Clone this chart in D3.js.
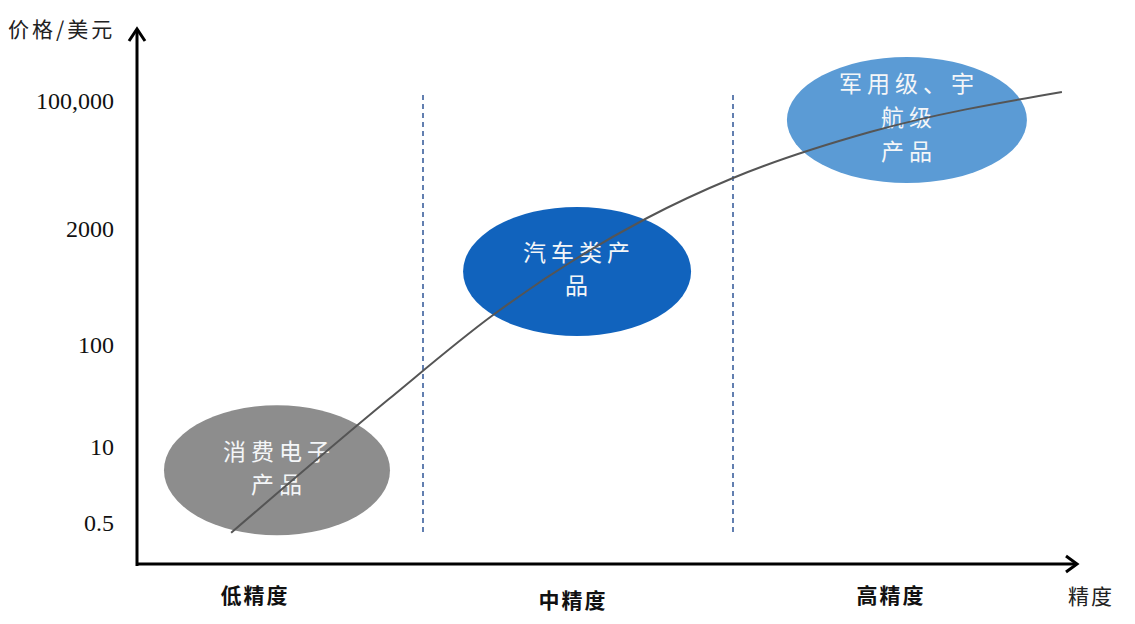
<!DOCTYPE html>
<html>
<head>
<meta charset="utf-8">
<script src="https://cdn.jsdelivr.net/npm/d3@7"></script>
<style>
  body { margin: 0; background: #fff; }
  .chart text { font-family: "Noto Sans CJK SC", sans-serif; }
</style>
</head>
<body>
<div class="chart"></div>
<script>
// price ticks (USD) and their labels
const priceTicks = [0.5, 10, 100, 2000, 100000]
const priceLabels = ["0.5", "10", "100", "2000", "100,000"]
const tickRows = [523, 447, 345, 229, 101]

// precision categories
const categories = ["低精度", "中精度", "高精度"]

// price curve: precision level (0..3) vs price
const curveX = [0.381, 0.887, 1.226, 1.723, 2.0, 2.442, 3.061]
const curveY = [0.34, 29, 217, 2800, 9500, 38700, 131600]

// product groups (bubble centres in precision / price)
const groupLines = [["消费电子", "产品"], ["汽车类产", "品"], ["军用级、宇", "航级", "产品"]]
const groupX = [0.529, 1.497, 2.561]
const groupY = [4.0, 668, 55900]
const groupColors = ["#8d8d8d", "#1163bd", "#5b9bd5"]

const width = 1135
const height = 624

const svg = d3.select(".chart").append("svg")
    .attr("width", width)
    .attr("height", height)

const axisX = 137
const axisY = 564

const xScale = d3.scaleLinear().domain([0, 3]).range([113, 1043])
// piecewise log scale so the ticks sit where the sketch has them
const yScale = d3.scaleLog().domain(priceTicks).range(tickRows)

// dashed dividers between categories
svg.selectAll(".divider")
    .data([1, 2])
    .enter().append("line")
    .attr("x1", d => xScale(d))
    .attr("x2", d => xScale(d))
    .attr("y1", 95)
    .attr("y2", 535)
    .attr("stroke", "#2f5597")
    .attr("stroke-width", 1.5)
    .attr("stroke-dasharray", "5,4")

// bubbles
const groups = svg.selectAll(".group")
    .data(groupLines)
    .enter().append("g")
    .attr("transform", (d, i) => "translate(" + xScale(groupX[i]) + "," + yScale(groupY[i]) + ")")

groups.append("ellipse")
    .attr("rx", (d, i) => [113, 114, 120][i])
    .attr("ry", (d, i) => [65, 64.5, 63][i])
    .attr("fill", (d, i) => groupColors[i])

groups.each(function(lines) {
    const g = d3.select(this)
    const lh = lines.length === 3 ? 34 : 33
    const top = -(lines.length - 1) * lh / 2 - 2
    lines.forEach((t, j) => {
        g.append("text")
            .attr("x", 2)
            .attr("y", top + j * lh)
            .attr("dy", "0.35em")
            .attr("text-anchor", "middle")
            .attr("fill", "#f4f6f8")
            .style("font-size", "23px")
            .style("letter-spacing", "5px")
            .text(t)
    })
})

// price curve
const line = d3.line()
    .x(d => xScale(d[0]))
    .y(d => yScale(d[1]))
    .curve(d3.curveMonotoneX)

svg.append("path")
    .datum(d3.zip(curveX, curveY))
    .attr("fill", "none")
    .attr("stroke", "#555")
    .attr("stroke-width", 2)
    .attr("d", line)

// y axis labels
const yAxis = svg.append("g")
    .attr("transform", "translate(" + axisX + ",0)")
    .call(d3.axisLeft(yScale)
        .tickValues(priceTicks)
        .tickFormat((d, i) => priceLabels[i])
        .tickSize(0)
        .tickPadding(23))
yAxis.select(".domain").remove()
yAxis.selectAll("text")
    .style("font-family", "'Liberation Serif', serif")
    .style("font-size", "24px")
    .attr("fill", "#111")

// axes with open arrowheads
svg.append("line")
    .attr("x1", axisX).attr("x2", axisX)
    .attr("y1", 29).attr("y2", axisY + 2)
    .attr("stroke", "#000").attr("stroke-width", 3)
svg.append("path")
    .attr("d", "M" + (axisX - 8) + ",41 L" + axisX + ",29 L" + (axisX + 8) + ",41")
    .attr("fill", "none").attr("stroke", "#000").attr("stroke-width", 3)

svg.append("line")
    .attr("x1", axisX - 1).attr("x2", 1077)
    .attr("y1", axisY).attr("y2", axisY)
    .attr("stroke", "#000").attr("stroke-width", 3)
svg.append("path")
    .attr("d", "M1066," + (axisY - 8) + " L1077," + axisY + " L1066," + (axisY + 8))
    .attr("fill", "none").attr("stroke", "#000").attr("stroke-width", 3)

// category labels
const catDx = [-13, -5, 3]
const catDy = [0, 5, 0]
svg.selectAll(".cat")
    .data(categories)
    .enter().append("text")
    .attr("x", (d, i) => xScale(i + 0.5) + catDx[i])
    .attr("y", (d, i) => 596 + catDy[i])
    .attr("dy", "0.35em")
    .attr("text-anchor", "middle")
    .style("font-size", "21px")
    .style("font-weight", "bold")
    .style("letter-spacing", "2px")
    .attr("fill", "#111")
    .text(d => d)

// axis titles
svg.append("text")
    .attr("x", 1091).attr("y", 597).attr("dy", "0.35em")
    .attr("text-anchor", "middle")
    .style("font-size", "21px")
    .style("letter-spacing", "2px")
    .attr("fill", "#222")
    .text("精度")

svg.append("text")
    .attr("x", 8).attr("y", 30).attr("dy", "0.35em")
    .style("font-size", "21px")
    .style("letter-spacing", "3px")
    .attr("fill", "#222")
    .text("价格/美元")
</script>
</body>
</html>
